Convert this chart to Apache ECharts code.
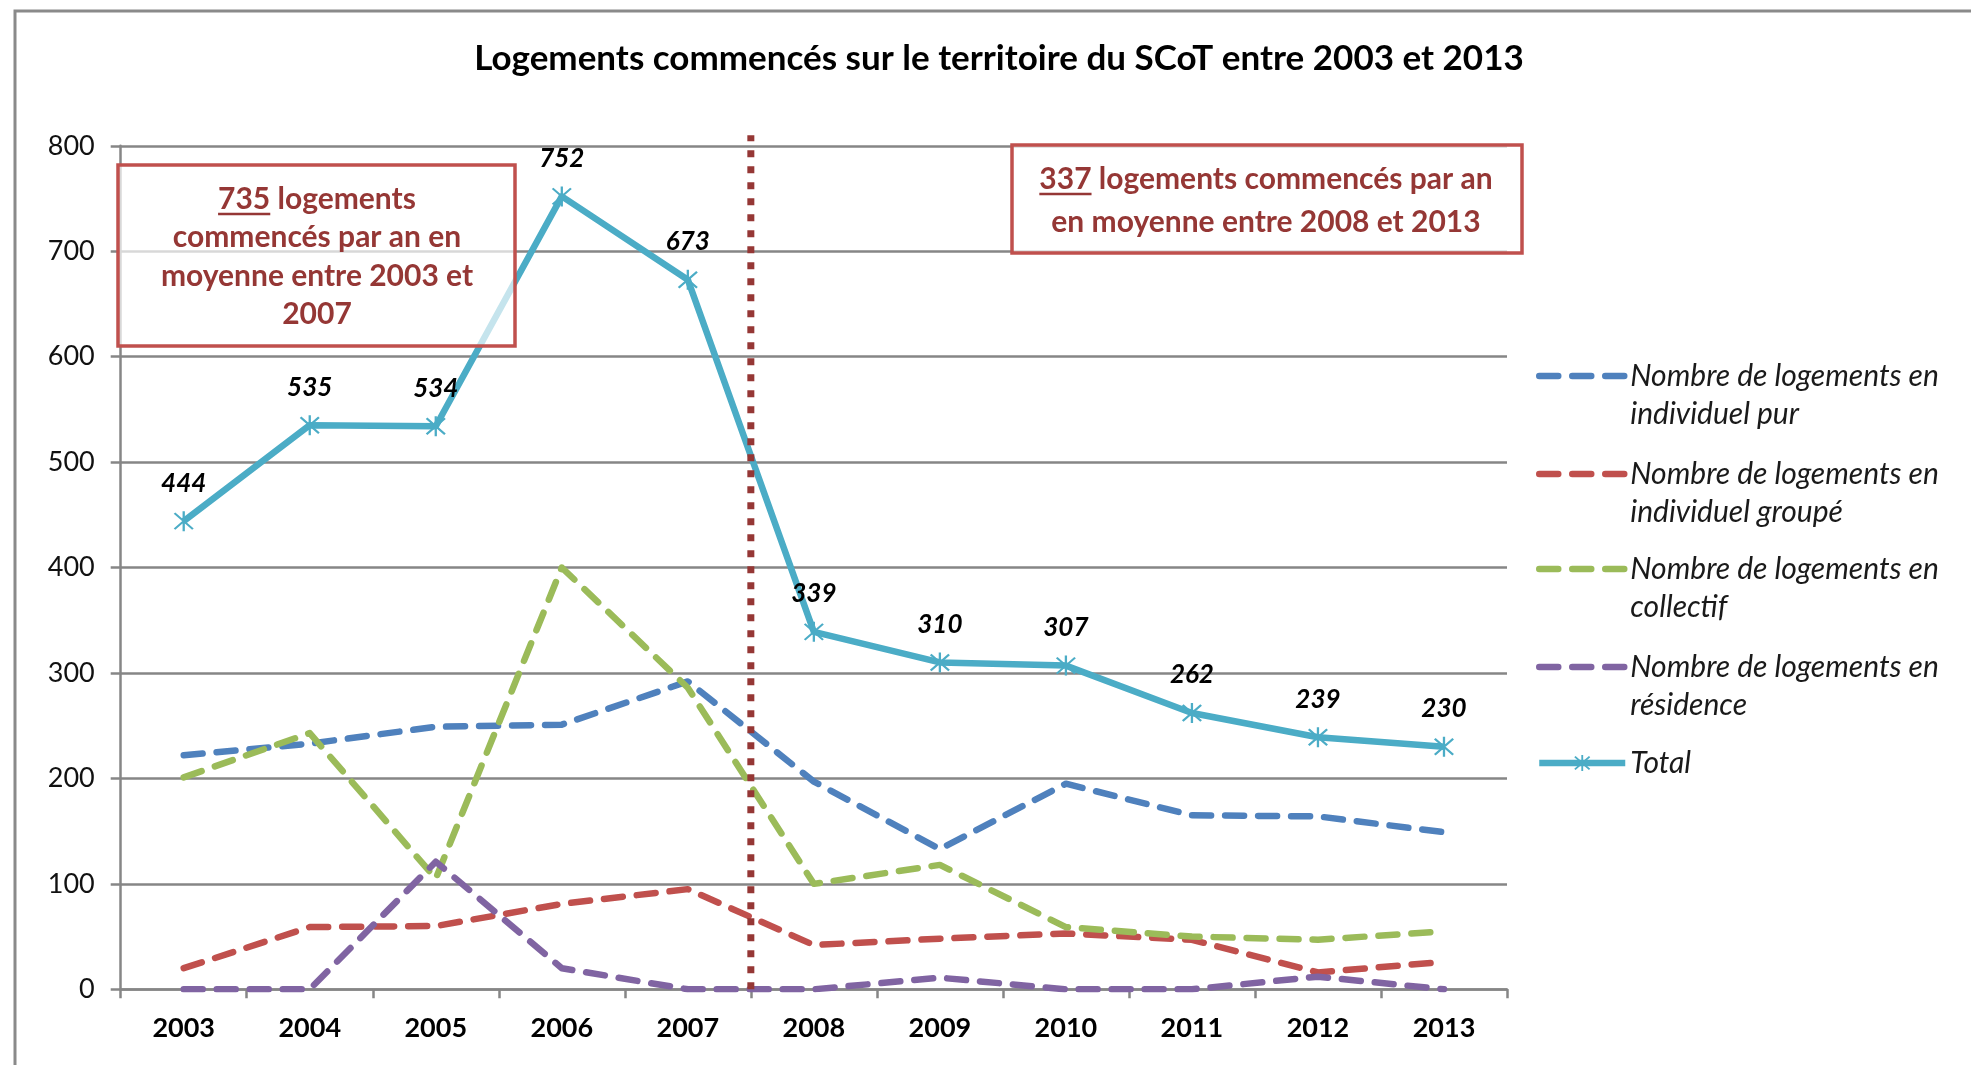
<!DOCTYPE html>
<html lang="fr">
<head>
<meta charset="utf-8">
<title>Logements commencés sur le territoire du SCoT entre 2003 et 2013</title>
<script src="https://cdn.jsdelivr.net/npm/echarts@6/dist/echarts.min.js"></script>
<style>
  html, body { margin: 0; padding: 0; background: #ffffff; }
  #chart { width: 1971px; height: 1065px; }
</style>
</head>
<body>
<div id="chart"></div>
<script>
// Années
const years = ['2003', '2004', '2005', '2006', '2007', '2008', '2009', '2010', '2011', '2012', '2013'];

// Logements commencés par type
const individuelPur    = [222, 233, 249, 251, 292, 197, 133, 195, 165, 164, 149];
const individuelGroupe = [20, 59, 60, 81, 95, 42, 48, 53, 47, 16, 26];
const collectif        = [201, 243, 105, 400, 286, 100, 118, 59, 50, 47, 55];
const residence        = [0, 0, 121, 20, 0, 0, 11, 0, 0, 12, 0];
const total            = [444, 535, 534, 752, 673, 339, 310, 307, 262, 239, 230];

// Graduations de l'axe vertical
const yTicks = [0, 100, 200, 300, 400, 500, 600, 700, 800];

// Séparation des deux périodes (après 2007) et moyennes annuelles
const lastYearFirstPeriod = '2007';
const dividerTop = 810;
const moyenne1 = 735;
const moyenne2 = 337;

const seriesNames = [
  'Nombre de logements en individuel pur',
  'Nombre de logements en individuel groupé',
  'Nombre de logements en collectif',
  'Nombre de logements en résidence',
  'Total'
];
const seriesValues = [individuelPur, individuelGroupe, collectif, residence, total];
const colors = ['#4F81BD', '#C0504D', '#9BBB59', '#8064A2', '#4BACC6'];

const FONT = 'Lato, "Open Sans", sans-serif';
const boxText = '#953735';
const boxFontSize = 30;

// astérisque du marqueur « Total »
const starPath = 'path://M9 0 L11 0 L11 20 L9 20 Z M1.3 2.7 L2.7 1.3 L18.7 17.3 L17.3 18.7 Z M17.3 1.3 L18.7 2.7 L2.7 18.7 L1.3 17.3 Z';

const dividerX = years.indexOf(lastYearFirstPeriod) + 1;

// largeur d'un texte pour placer le soulignement des moyennes
const measureCtx = document.createElement('canvas').getContext('2d');
function textWidth(str, font) {
  measureCtx.font = font;
  return measureCtx.measureText(str).width;
}

const chart = echarts.init(document.getElementById('chart'), null, { renderer: 'canvas' });

const dashedSeries = seriesValues.slice(0, 4).map((vals, i) => ({
  name: seriesNames[i],
  type: 'line',
  data: vals,
  z: 2,
  showSymbol: false,
  symbol: 'none',
  lineStyle: { color: colors[i], width: 6.5, type: [19, 14], cap: 'round', join: 'round' },
  itemStyle: { color: colors[i] },
  emphasis: { disabled: true },
  animation: false
}));

const totalSeries = {
  name: seriesNames[4],
  type: 'line',
  data: total,
  z: 3,
  symbol: starPath,
  symbolSize: 20,
  itemStyle: { color: colors[4] },
  lineStyle: { color: colors[4], width: 6.5, join: 'round' },
  label: {
    show: true,
    position: 'top',
    distance: 15,
    color: '#000',
    fontFamily: FONT,
    fontSize: 26,
    fontWeight: 'bold',
    fontStyle: 'italic'
  },
  emphasis: { disabled: true },
  animation: false
};

const dividerSeries = {
  name: 'séparation',
  type: 'line',
  xAxisIndex: 1,
  data: [[dividerX, 0], [dividerX, dividerTop]],
  z: 4,
  clip: false,
  symbol: 'none',
  silent: true,
  lineStyle: { color: '#953735', width: 7, type: [7, 9] },
  animation: false
};

// légende : une entrée par composant ; une ligne vide en tête centre la
// première ligne du libellé sur l'icône
const legendLine = 38;
const legendRows = [376, 474, 569, 667, 763];
const legends = seriesNames.map((name, i) => {
  const twoLines = name.indexOf(' en ') > 0;
  return {
    data: [name],
    orient: 'vertical',
    left: 1536,
    top: twoLines ? legendRows[i] - legendLine * 1.5 : legendRows[i] - legendLine / 2,
    padding: 0,
    itemWidth: 86,
    itemHeight: 20,
    itemGap: 12,
    selectedMode: false,
    formatter: n => (twoLines ? '\n' + n.replace(' en ', ' en\n') : n),
    lineStyle: { width: 6.5 },
    itemStyle: twoLines ? { color: 'rgba(0,0,0,0)', borderWidth: 0 } : {},
    textStyle: {
      fontFamily: FONT,
      fontSize: 30,
      fontStyle: 'italic',
      color: '#1a1a1a',
      lineHeight: legendLine
    }
  };
});

// encadrés des moyennes
function boxGraphics(rect, cx, lines, lineYs, avgValue) {
  const font = 'bold ' + boxFontSize + 'px ' + FONT;
  const els = [{
    type: 'rect',
    shape: rect,
    z: 100,
    style: { fill: 'rgba(255,255,255,0.68)', stroke: '#C0504D', lineWidth: 3.5 }
  }];
  lines.forEach((t, k) => {
    els.push({
      type: 'text',
      z: 101,
      x: cx,
      y: lineYs[k],
      style: {
        text: t,
        font: font,
        fill: boxText,
        align: 'center',
        verticalAlign: 'middle'
      }
    });
  });
  const full = textWidth(lines[0], font);
  const num = textWidth(String(avgValue), font);
  const x0 = cx - full / 2;
  els.push({
    type: 'rect',
    z: 101,
    shape: { x: x0, y: lineYs[0] + boxFontSize * 0.46, width: num, height: 2.5 },
    style: { fill: boxText }
  });
  return els;
}

const graphics = [
  {
    type: 'rect',
    z: 0,
    shape: { x: 15, y: 11, width: 2100, height: 1200 },
    style: { fill: 'none', stroke: '#8a8a8a', lineWidth: 3 }
  }
].concat(
  boxGraphics({ x: 118, y: 165, width: 397, height: 181 }, 317,
    [moyenne1 + ' logements', 'commencés par an en', 'moyenne entre 2003 et', '2007'],
    [199, 237, 276, 314], moyenne1),
  boxGraphics({ x: 1012, y: 145, width: 510, height: 108 }, 1266,
    [moyenne2 + ' logements commencés par an', 'en moyenne entre 2008 et 2013'],
    [179, 222], moyenne2)
);

const option = {
  backgroundColor: '#ffffff',
  animation: false,
  textStyle: { fontFamily: FONT },
  title: {
    text: 'Logements commencés sur le territoire du SCoT entre 2003 et 2013',
    left: 999,
    top: 41,
    textAlign: 'center',
    padding: 0,
    textStyle: { fontFamily: FONT, fontSize: 35, fontWeight: 'bold', color: '#000' }
  },
  legend: legends,
  grid: { left: 120.7, right: 464, top: 145.8, bottom: 75.7, containLabel: false },
  xAxis: [
    {
      type: 'category',
      data: years,
      boundaryGap: true,
      axisLine: { show: true, lineStyle: { color: '#868686', width: 2.5 } },
      axisTick: { show: true, interval: 0, alignWithLabel: false, length: 9, lineStyle: { color: '#868686', width: 2.5 } },
      axisLabel: { interval: 0, margin: 25, fontFamily: FONT, fontSize: 27, fontWeight: 'bold', color: '#000' },
      splitLine: { show: false }
    },
    {
      type: 'value',
      min: 0,
      max: years.length,
      show: false
    }
  ],
  yAxis: {
    type: 'value',
    min: yTicks[0],
    max: yTicks[yTicks.length - 1],
    interval: yTicks[1] - yTicks[0],
    axisLine: { show: true, lineStyle: { color: '#868686', width: 2.5 } },
    axisTick: { show: true, length: 10, lineStyle: { color: '#868686', width: 2.5 } },
    axisLabel: { margin: 26, fontFamily: FONT, fontSize: 27, color: '#111' },
    splitLine: { show: true, lineStyle: { color: '#868686', width: 2.5 } }
  },
  series: dashedSeries.concat([totalSeries, dividerSeries]),
  graphic: graphics
};

chart.setOption(option);
</script>
</body>
</html>
